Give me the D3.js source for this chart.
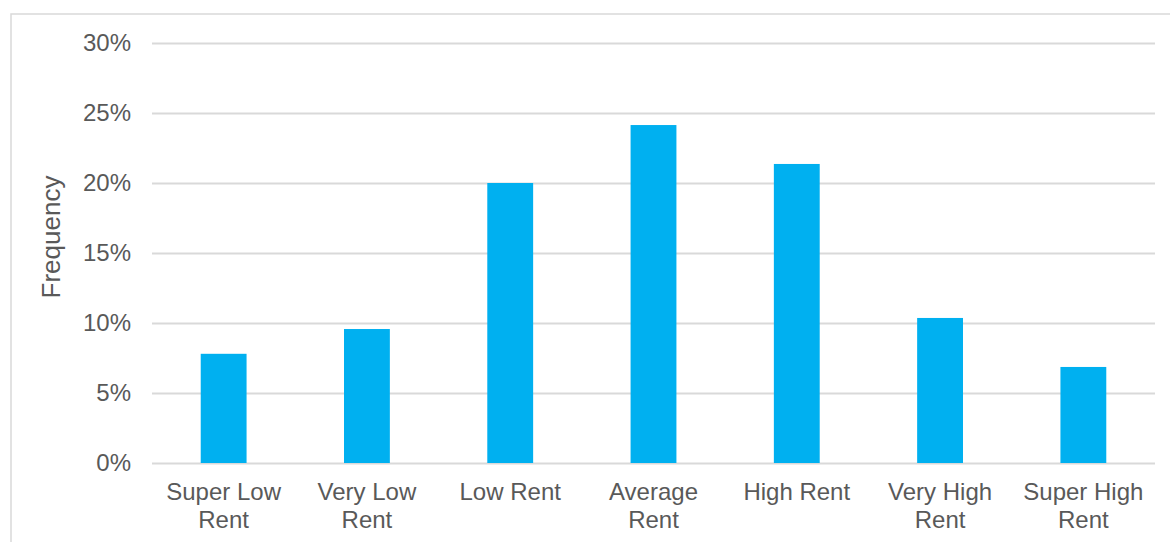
<!DOCTYPE html>
<html><head><meta charset="utf-8">
<script src="https://cdn.jsdelivr.net/npm/d3@7"></script>
<style>body{margin:0;background:#fff;}svg{display:block;font-family:"Liberation Sans",Arial,sans-serif;}</style>
</head><body>
<svg id="c" width="1170" height="542"></svg>
<script>
const categories = [["Super Low","Rent"],["Very Low","Rent"],["Low Rent"],["Average","Rent"],["High Rent"],["Very High","Rent"],["Super High","Rent"]];
const values = [7.8, 9.57, 20.0, 24.14, 21.36, 10.36, 6.86];
const yTicks = [0, 5, 10, 15, 20, 25, 30];
const yTitle = "Frequency";

const svg = d3.select("#c");
const m = {left:152, right:1155, top:43, bottom:463};
svg.append("rect").attr("x",11).attr("y",14).attr("width",1180).attr("height",560)
  .attr("fill","none").attr("stroke","#d9d9d9").attr("stroke-width",1.5);

const x = d3.scaleBand().domain(d3.range(categories.length)).range([m.left,m.right]).paddingInner(0.68).paddingOuter(0.34);
const y = d3.scaleLinear().domain([0,30]).range([m.bottom,m.top]);

const ya = svg.append("g").attr("transform",`translate(${m.left},0)`)
  .call(d3.axisLeft(y).tickValues(yTicks).tickFormat(d=>d+"%").tickSize(-(m.right-m.left)).tickPadding(21));
ya.select(".domain").remove();
ya.selectAll(".tick line").attr("stroke","#d9d9d9").attr("stroke-width",2);
ya.selectAll(".tick text").attr("fill","#595959").attr("font-size","24px");

svg.append("g").selectAll("rect").data(values).join("rect")
  .attr("x",(d,i)=>x(i)).attr("width",x.bandwidth())
  .attr("y",d=>y(d)).attr("height",d=>y(0)-y(d)).attr("fill","#00b0f0");

const xl = svg.append("g");
categories.forEach((lines,i)=>{
  const t = xl.append("text").attr("text-anchor","middle").attr("fill","#595959").attr("font-size","24px")
    .attr("x",x(i)+x.bandwidth()/2).attr("y",500);
  lines.forEach((l,j)=>t.append("tspan").attr("x",x(i)+x.bandwidth()/2).attr("dy",j?27.5:0).text(l));
});

svg.append("text").attr("transform","translate(60,237) rotate(-90)").attr("text-anchor","middle")
  .attr("fill","#595959").attr("font-size","26px").text(yTitle);
</script>
</body></html>
